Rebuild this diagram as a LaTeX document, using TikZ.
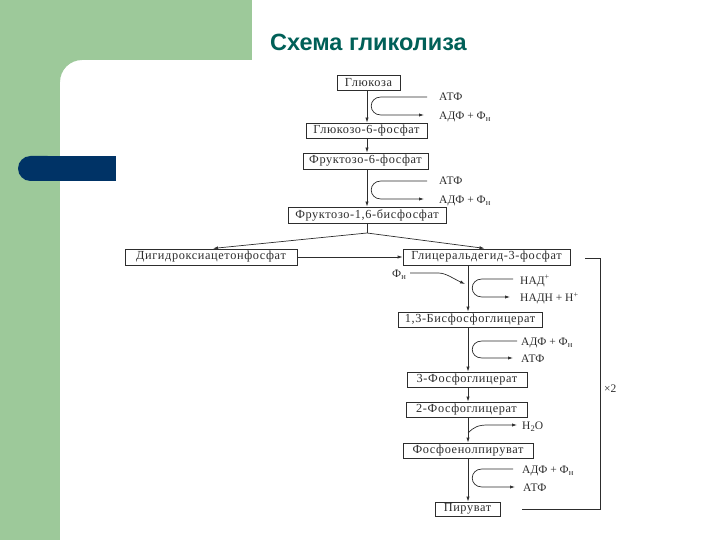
\documentclass[tikz,border=0pt]{standalone}
\usepackage{fontspec}
\setmainfont{Liberation Serif}
\newfontfamily\boxfont[LetterSpace=5]{Liberation Serif}
\newfontfamily\titlefont{Liberation Sans}
\usetikzlibrary{arrows.meta}
\definecolor{bggreen}{RGB}{157,201,154}
\definecolor{barblue}{RGB}{0,51,102}
\definecolor{titlecol}{RGB}{0,96,88}
\definecolor{ink}{RGB}{45,45,45}
\newcommand{\lowidx}[1]{\raisebox{-2.2pt}{\fontsize{8.5}{9}\selectfont #1}}
\begin{document}
\begin{tikzpicture}[x=1pt,y=-1pt,
  box/.style={draw=ink, line width=0.7pt, inner sep=0pt, text=ink, font=\boxfont\fontsize{12.3}{13}\selectfont},
  lbl/.style={anchor=base west, inner sep=0pt, text=ink, font=\fontsize{11.5}{12}\selectfont},
  conn/.style={draw=ink, line width=0.7pt},
  arr/.style={conn, -{Latex[length=5pt,width=3.2pt]}}]
\useasboundingbox (0,0) rectangle (720,540);
\fill[white] (0,0) rectangle (720,540);
% background
\fill[bggreen] (0,0) rectangle (252,60);
\fill[bggreen] (0,0) rectangle (60,540);
\fill[bggreen] (60,60) -- (82,60) .. controls (69.9,60) and (60,69.9) .. (60,82) -- cycle;
\fill[barblue, rounded corners=12.5pt] (18,156) rectangle (60,181);
\fill[barblue] (40,156) rectangle (116,181);
% title
\node[anchor=west, inner sep=0pt, text=titlecol, font=\titlefont\bfseries\fontsize{23.5}{26}\selectfont] (title) at (270,42) {Схема гликолиза};
% boxes
\node[box, minimum width=63pt, minimum height=15pt] (g1) at (368.5,82.5) {Глюкоза};
\node[box, minimum width=121pt, minimum height=15pt] (g2) at (366.5,130.5) {Глюкозо-6-фосфат};
\node[box, minimum width=125pt, minimum height=16pt] (g3) at (365.5,161) {Фруктозо-6-фосфат};
\node[box, minimum width=158pt, minimum height=16pt] (g4) at (367,215) {Фруктозо-1,6-бисфосфат};
\node[box, minimum width=172pt, minimum height=16pt] (g5) at (211,257) {Дигидроксиацетонфосфат};
\node[box, minimum width=167pt, minimum height=16pt] (g6) at (486.5,257) {Глицеральдегид-3-фосфат};
\node[box, minimum width=144pt, minimum height=15pt] (g7) at (470,319.5) {1,3-Бисфосфоглицерат};
\node[box, minimum width=120pt, minimum height=15pt] (g8) at (467,379.5) {3-Фосфоглицерат};
\node[box, minimum width=121pt, minimum height=15pt] (g9) at (466.5,409.5) {2-Фосфоглицерат};
\node[box, minimum width=130pt, minimum height=15pt] (g10) at (468,450.5) {Фосфоенолпируват};
\node[box, minimum width=65pt, minimum height=14pt] (g11) at (467.5,509) {Пируват};
% labels
\node[lbl] (l1a) at (439,101) {АТФ};
\node[lbl] (l1b) at (439,119.5) {АДФ + Ф\lowidx{н}};
\node[lbl] (l2a) at (439,185) {АТФ};
\node[lbl] (l2b) at (439,203.5) {АДФ + Ф\lowidx{н}};
\node[lbl] (l3a) at (520,284) {НАД\textsuperscript{+}};
\node[lbl] (l3b) at (520,301.5) {НАДН + Н\textsuperscript{+}};
\node[lbl] (l3c) at (392,277) {Ф\lowidx{н}};
\node[lbl] (l4a) at (521,345) {АДФ + Ф\lowidx{н}};
\node[lbl] (l4b) at (521,362.5) {АТФ};
\node[lbl] (l5) at (522,429.5) {Н\lowidx{2}О};
\node[lbl] (l6a) at (522,473) {АДФ + Ф\lowidx{н}};
\node[lbl] (l6b) at (523,491.5) {АТФ};
\node[lbl] (x2) at (604,392) {×2};
% main column
\coordinate (xa) at (367,0);
\coordinate (xb) at (468,0);
\draw[arr] (g1.south -| xa) -- (g2.north -| xa);
\draw[arr] (g2.south -| xa) -- (g3.north -| xa);
\draw[arr] (g3.south -| xa) -- (g4.north -| xa);
\coordinate (br) at (367,233);
\draw[conn] (g4.south -| xa) -- (br);
\draw[arr, shorten >=2pt] (br) -- (g5.north);
\draw[arr, shorten >=2pt] (br) -- (g6.north);
\draw[arr] (g5.east) -- (g6.west);
\draw[arr] (g6.south -| xb) -- (g7.north -| xb);
\draw[arr] (g7.south -| xb) -- (g8.north -| xb);
\draw[arr] (g8.south -| xb) -- (g9.north -| xb);
\draw[arr] (g9.south -| xb) -- (g10.north -| xb);
\draw[arr] (g10.south -| xb) -- (g11.north -| xb);
% side reactions
\coordinate (r1a) at (427,97);  \coordinate (r1b) at (424,115);
\draw[arr] (r1a) -- (381,97) .. controls (368,97) and (368,115) .. (381,115) -- (r1b);
\coordinate (r2a) at (427,181); \coordinate (r2b) at (424,199);
\draw[arr] (r2a) -- (381,181) .. controls (368,181) and (368,199) .. (381,199) -- (r2b);
\coordinate (r3a) at (513,279); \coordinate (r3b) at (510,297);
\draw[arr] (r3a) -- (482,279) .. controls (469,279) and (469,297) .. (482,297) -- (r3b);
\coordinate (r3c) at (410,273); \coordinate (r3d) at (465,284);
\draw[arr] (r3c) -- (438,273) .. controls (446,273) and (452,278) .. (r3d);
\coordinate (r4a) at (517,341); \coordinate (r4b) at (513,358);
\draw[arr] (r4a) -- (482,341) .. controls (469,341) and (469,358) .. (482,358) -- (r4b);
\coordinate (r5a) at (468,433); \coordinate (r5b) at (517,425);
\draw[arr] (r5a) .. controls (474,427) and (478,425) .. (488,425) -- (r5b);
\coordinate (r6a) at (513,469); \coordinate (r6b) at (515,487);
\draw[arr] (r6a) -- (482,469) .. controls (469,469) and (469,487) .. (482,487) -- (r6b);
% bracket x2
\coordinate (k1) at (585,258); \coordinate (k2) at (522,509);
\draw[conn] (k1) -- (600,258) -- (600,509) -- (k2);
\end{tikzpicture}
\end{document}
